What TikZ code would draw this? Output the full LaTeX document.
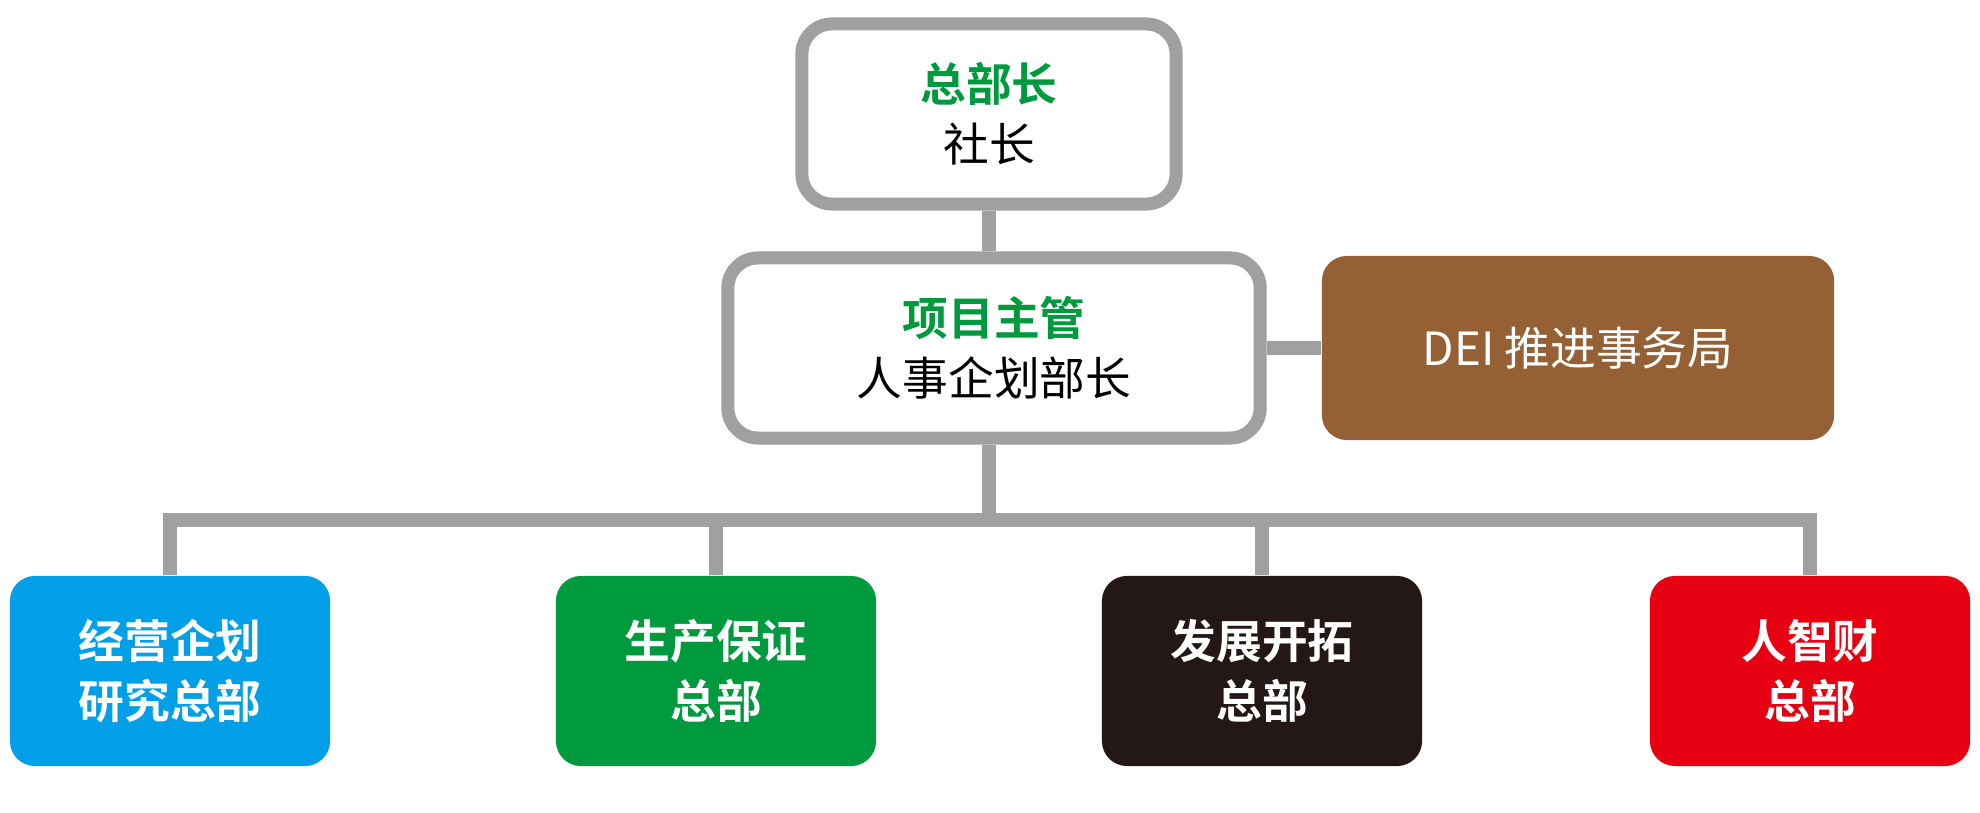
\documentclass[tikz,border=0pt]{standalone}
\usepackage{fontspec}
\newfontfamily\cjk{Noto Sans CJK SC}
\newfontfamily\cjkb{Noto Sans CJK SC Bold}
\usetikzlibrary{positioning}
\definecolor{ggreen}{HTML}{009A3E}
\definecolor{gline}{HTML}{A0A0A0}
\definecolor{cblue}{HTML}{009FE8}
\definecolor{cbrown}{HTML}{956134}
\definecolor{cblack}{HTML}{231815}
\definecolor{cred}{HTML}{E60012}
\tikzset{head/.style={draw=gline, line width=1.3mm, fill=white, rounded corners=0.3cm, align=center, font=\cjk\fontsize{13}{17}\selectfont}}
\tikzset{dept/.style={rounded corners=0.25cm, minimum width=3.2cm, minimum height=1.9cm, align=center, text=white, font=\cjkb\fontsize{13}{17}\selectfont}}
\tikzset{link/.style={gline, line width=1.4mm}}
\begin{document}
\begin{tikzpicture}[x=0.01cm, y=-0.01cm]
	\useasboundingbox (0,0) rectangle (1980,813);

	% Heads
	\node[head, minimum width=3.74cm, minimum height=1.8cm] (boss) at (989,114) {{\cjkb\color{ggreen}总部长}\\社长};
	\node[head, minimum width=5.32cm, minimum height=1.8cm] (hr) at (994,348) {{\cjkb\color{ggreen}项目主管}\\人事企划部长};
	\node[dept, fill=cbrown, minimum width=5.12cm, minimum height=1.84cm, font=\cjk\fontsize{13}{17}\selectfont] (dei) at (1578,348) {DEI 推进事务局};

	% Departments
	\node[dept, fill=cblue] (plan) at (170,671) {经营企划\\研究总部};
	\node[dept, fill=ggreen] (prod) at (716,671) {生产保证\\总部};
	\node[dept, fill=cblack] (dev) at (1262,671) {发展开拓\\总部};
	\node[dept, fill=cred] (talent) at (1810,671) {人智财\\总部};

	% Links
	\coordinate (bus) at (989,520);
	\draw[link] (boss) -- (boss|-hr.north);
	\draw[link] (hr.east) -- (dei.west);
	\draw[link] (hr.south-|bus) -- (bus);
	\draw[link] (plan.north) |- (bus) -| (talent.north);
	\draw[link] (prod.north) -- (prod.north|-bus);
	\draw[link] (dev.north) -- (dev.north|-bus);
\end{tikzpicture}
\end{document}
